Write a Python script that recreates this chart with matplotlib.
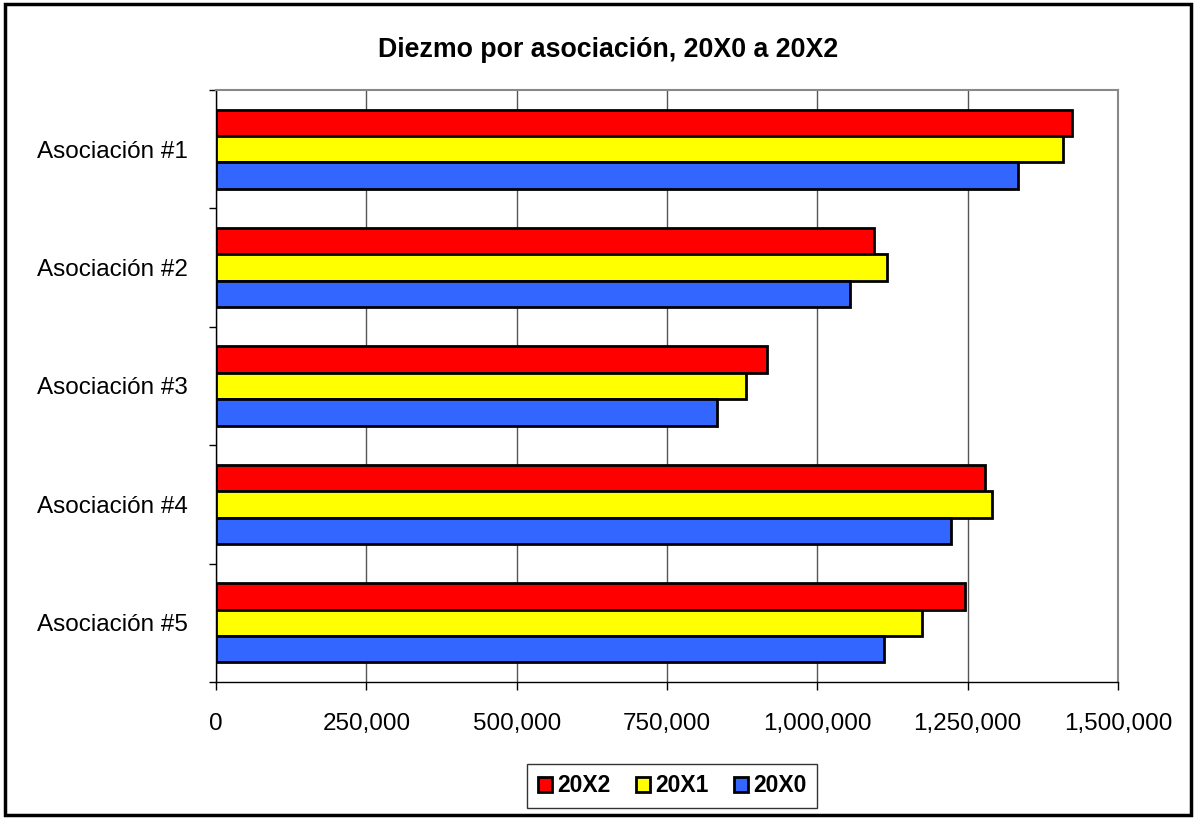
#!/usr/bin/env python3

import numpy as np
import matplotlib.pyplot as plt
from matplotlib.ticker import FuncFormatter, MultipleLocator
from matplotlib.patches import Rectangle

# Data
categories = ['Asociación #1', 'Asociación #2', 'Asociación #3', 'Asociación #4', 'Asociación #5']
years = ['20X2', '20X1', '20X0']
v_20x2 = [1423000, 1094000, 916000, 1279000, 1245000]
v_20x1 = [1409000, 1116000, 881000, 1291000, 1174000]
v_20x0 = [1334000, 1055000, 833000, 1222000, 1111000]
colors = ['#FF0000', '#FFFF00', '#3366FF']

plt.rcParams['font.family'] = ['Liberation Sans', 'DejaVu Sans']

fig = plt.figure(figsize=(11.96, 8.19), dpi=100)
ax = fig.add_axes([216 / 1196, 1 - 682 / 819, (1118 - 216) / 1196, (682 - 90) / 819])

y = np.arange(len(categories))
h = 0.223
series = [v_20x2, v_20x1, v_20x0]
for i, (vals, col, lab) in enumerate(zip(series, colors, years)):
    ax.barh(y + (i - 1) * h, vals, height=h, color=col, edgecolor='black',
            linewidth=2, label=lab, zorder=3)

ax.set_xlim(0, 1500000)
ax.set_ylim(len(categories) - 0.5, -0.5)
ax.xaxis.set_major_locator(MultipleLocator(250000))
ax.xaxis.set_major_formatter(FuncFormatter(lambda v, p: f'{int(v):,}'))
ax.grid(axis='x', color='#555555', linewidth=1, zorder=0)

ax.set_yticks(y)
ax.set_yticklabels(categories)
ax.set_yticks(np.arange(len(categories) + 1) - 0.5, minor=True)
ax.tick_params(axis='y', which='major', length=0, pad=20, labelsize=17.5)
ax.tick_params(axis='y', which='minor', length=5, width=1, direction='out')
ax.tick_params(axis='x', length=6, width=1, direction='out', pad=16, labelsize=17.5)

for s in ['top', 'right']:
    ax.spines[s].set_color('#888888')
    ax.spines[s].set_linewidth(1.5)
for s in ['left', 'bottom']:
    ax.spines[s].set_color('black')
    ax.spines[s].set_linewidth(1)

fig.text(608 / 1196, 1 - 50 / 819, 'Diezmo por asociación, 20X0 a 20X2',
         ha='center', va='center', fontsize=19.3, fontweight='bold')

leg = fig.legend(loc='center', bbox_to_anchor=(672 / 1196, 1 - 786 / 819), ncol=3,
                 frameon=True, fancybox=False, prop={'weight': 'bold', 'size': 16.5},
                 handlelength=0.65, handleheight=0.65, handletextpad=0.2,
                 columnspacing=1.1, borderpad=0.45)
leg.get_frame().set_edgecolor('black')
leg.get_frame().set_linewidth(1)

fig.patches.append(Rectangle((5 / 1196, 4 / 819), 1186 / 1196, 811 / 819,
                             transform=fig.transFigure, fill=False,
                             edgecolor='black', linewidth=2.5))

fig.savefig('out.png', dpi=100)
